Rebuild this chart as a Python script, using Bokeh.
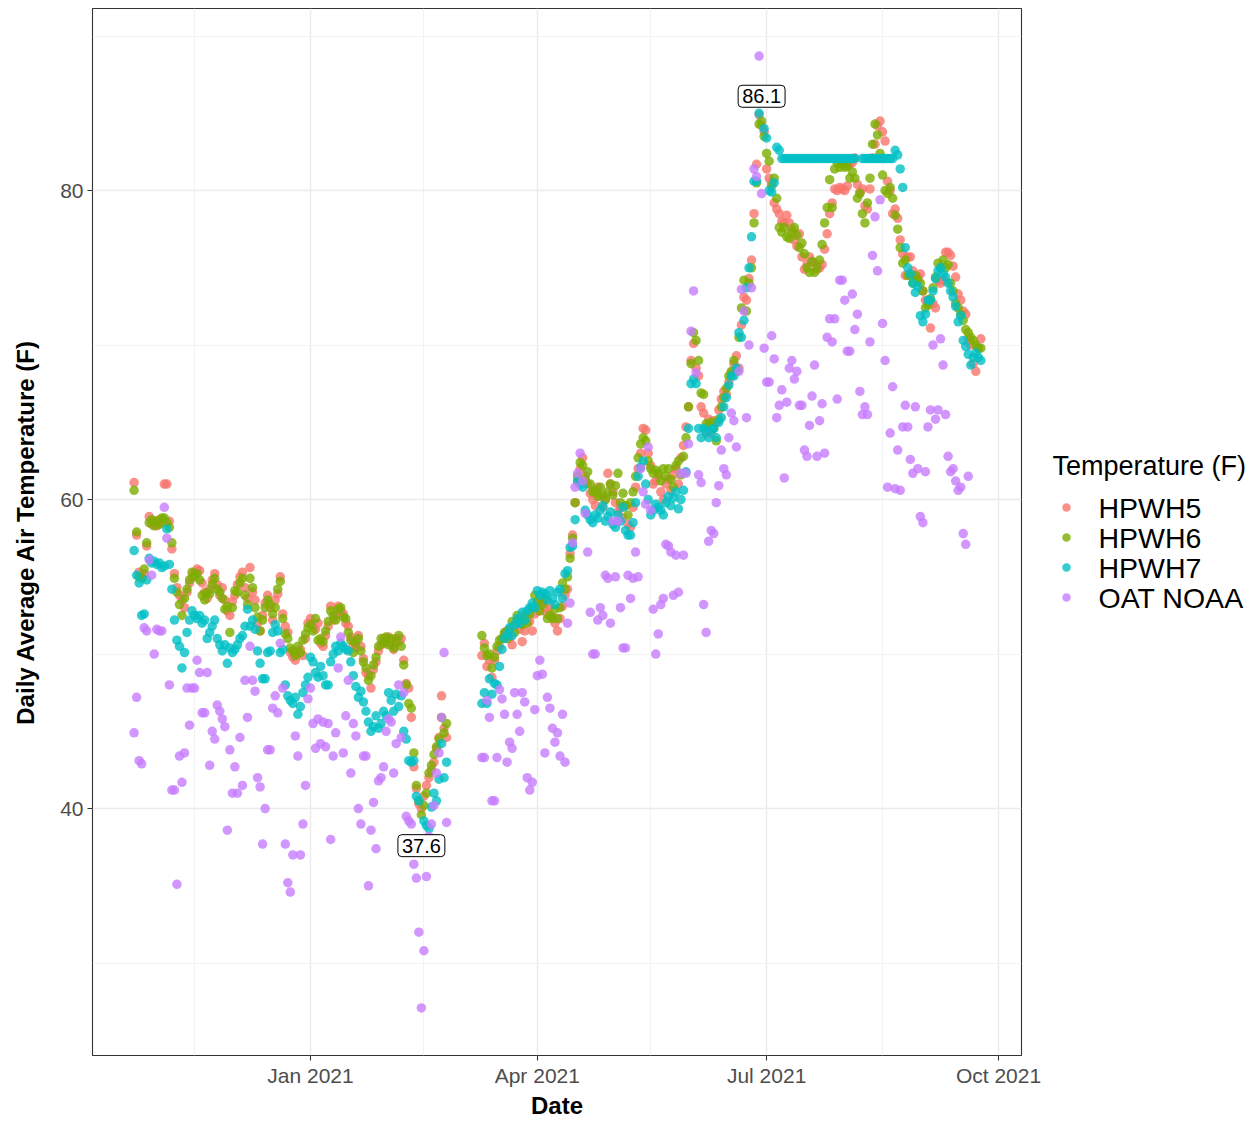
import pandas as pd
from bokeh.plotting import figure
from bokeh.layouts import row
from bokeh.models import (Range1d, FixedTicker, DatetimeTickFormatter,
                          ColumnDataSource)
from bokeh.core.properties import value
from bokeh.embed import file_html
from bokeh.resources import INLINE

nan = float("nan")

series_names = ["HPWH5", "HPWH6", "HPWH7", "OAT NOAA"]
series_colors = ["#F8766D", "#7CAE00", "#00BFC4", "#C77CFF"]
legend_title = "Temperature (F)"

winter_start = "2020-10-23"
spring_start = "2021-03-10"

x_major_ticks = ["2021-01-01", "2021-04-01", "2021-07-01", "2021-10-01"]
x_minor_ticks = ["2020-11-16", "2021-02-15", "2021-05-16", "2021-08-16"]
y_major_ticks = [40, 60, 80]
y_minor_ticks = [30, 50, 70, 90]

hpwh5_winter = [
    61.1, 57.7, 55.3, 55.0, 55.2, 57.0, 58.9, 58.4, 58.6, 58.3,
    58.7, 58.5, 61.0, 61.0, 58.6, 56.8, 55.2, 54.3, 53.8, 53.5,
    53.0, 54.0, 54.6, 55.0, 55.3, 55.5, 55.4, 54.6, 54.0, 53.6,
    54.2, 54.8, 55.2, 54.5, 53.8, 54.3, 53.5, 52.8, 52.5, 53.4,
    53.8, 54.5, 55.0, 55.3, 54.3, 53.6, 55.6, 54.0, 53.5, 52.0,
    51.5, 52.5, 53.3, 53.8, 53.0, 52.2, 53.5, 53.9, 55.0, 52.6,
    51.8, 51.4, 50.1, 49.8, 49.6, 50.0, 50.3, 49.9, 51.0, 52.0,
    52.3, 51.8, 51.6, 52.0, 50.7, 50.5, 51.2, 51.8, 53.1, 52.2,
    52.5, 53.1, 52.8, 52.6, 52.0, 51.8, 51.1, 50.6, 50.4, 51.2,
    50.5, 49.7, 48.8, 48.6, 47.8, 49.0, 49.5, 50.2, 50.6, 51.0,
    50.8, 51.1, 50.6, 50.3, 51.0, 50.8, 51.0, 49.6, 48.1, 47.8,
    45.9, 42.7, 41.3, 40.3, 40.0, 40.8, 41.5, 42.0, 42.5, 43.0,
    43.9, 44.6, 47.3, 45.2, 44.6]

hpwh6_winter = [
    60.6, 57.9, 55.0, 54.9, 55.5, 57.2, 58.5, 58.7, 58.3, 58.6,
    58.4, 58.8, 58.8, 58.5, 58.2, 57.2, 54.9, 54.0, 53.2, 52.5,
    53.6, 54.2, 54.8, 55.3, 55.0, 55.2, 54.8, 53.8, 53.5, 54.0,
    53.9, 54.5, 54.9, 54.2, 54.0, 53.6, 52.9, 53.1, 51.4, 53.0,
    54.1, 54.0, 54.6, 54.9, 53.8, 53.2, 54.9, 54.3, 53.0, 52.4,
    51.5, 52.2, 53.0, 53.5, 53.2, 52.6, 53.0, 54.2, 54.7, 52.3,
    51.3, 51.0, 50.4, 50.2, 49.9, 50.5, 50.1, 50.9, 51.3, 51.7,
    51.9, 51.5, 52.3, 50.9, 51.0, 50.8, 51.5, 52.1, 52.8, 52.5,
    52.2, 52.9, 53.0, 52.4, 52.3, 51.4, 50.9, 50.1, 50.7, 51.0,
    50.2, 49.5, 49.1, 48.3, 48.6, 49.3, 49.8, 50.5, 51.0, 50.7,
    51.1, 50.6, 51.0, 50.4, 50.8, 51.2, 50.5, 49.3, 48.0, 46.8,
    46.5, 43.6, 41.5, 40.5, 39.6, 40.2, 41.0, 42.3, 42.8, 43.5,
    44.0, 44.5, 45.9, 44.9, 45.5]

hpwh7_winter = [
    56.7, 55.1, 54.6, 52.5, 52.6, 54.8, 56.2, 55.9, 56.0, 55.8,
    55.9, 55.6, 55.7, 58.1, 55.8, 54.2, 52.2, 50.9, 50.5, 49.1,
    50.1, 51.4, 52.2, 52.8, 52.5, 52.3, 52.5, 52.0, 52.2, 51.0,
    51.4, 51.8, 52.2, 51.0, 50.6, 50.2, 50.6, 49.4, 50.4, 50.1,
    50.3, 50.6, 51.0, 51.2, 51.8, 52.9, 51.8, 52.2, 51.6, 50.2,
    49.4, 48.4, 48.4, 50.1, 50.2, 51.4, 51.9, 51.5, 50.1, 50.3,
    48.0, 47.3, 47.0, 46.8, 47.2, 46.1, 46.6, 47.5, 48.0, 48.5,
    49.8, 49.5, 48.8, 48.5, 49.2, 48.6, 48.0, 48.0, 49.5, 50.0,
    50.5, 50.2, 50.7, 50.5, 50.3, 50.2, 49.5, 48.6, 47.9, 47.2,
    47.6, 46.9, 46.3, 45.6, 45.0, 45.3, 46.0, 45.2, 45.5, 46.3,
    46.0, 47.5, 47.0, 46.3, 47.4, 46.6, 47.3, 45.0, 44.5, 43.1,
    43.0, 43.1, 40.8, 40.5, 37.6, 39.2, 38.9, 38.7, 40.1, 41.0,
    40.5, 41.9, 44.2, 42.0, 43.0]

oat_winter = [
    44.9, 47.2, 43.1, 42.9, 51.7, 51.5, 56.1, 55.1, 50.0, 51.6,
    51.5, 51.5, 59.5, 57.5, 48.0, 41.2, 41.2, 35.1, 43.4, 41.7,
    43.6, 47.8, 45.4, 47.8, 47.8, 49.6, 48.8, 46.2, 46.2, 48.8,
    42.8, 45.0, 44.5, 46.7, 46.3, 45.8, 45.3, 38.6, 43.8, 41.0,
    42.7, 41.0, 44.6, 41.5, 48.3, 45.9, 50.5, 48.3, 47.6, 42.0,
    41.4, 37.7, 40.0, 43.8, 43.8, 46.5, 47.3, 46.2, 50.7, 47.8,
    37.7, 35.2, 34.6, 37.0, 44.7, 43.4, 37.0, 39.0, 41.5, 47.1,
    47.8, 45.5, 43.9, 45.8, 44.2, 45.6, 44.0, 45.5, 38.0, 43.4,
    44.9, 49.1, 51.1, 43.6, 46.0, 48.3, 42.3, 45.5, 44.7, 40.0,
    39.0, 43.4, 43.4, 35.0, 38.6, 40.4, 37.4, 41.8, 42.0, 42.7,
    45.0, 45.8, 45.6, 42.3, 44.2, 48.0, 44.6, 47.5, 39.5, 39.2,
    39.0, 36.4, 35.5, 32.0, 27.1, 30.8, 35.6, 38.2, 39.0, 40.2,
    42.3, 43.6, 45.9, 50.1, 39.1]

hpwh5_spring = [
    49.9, 50.7, 49.2, 49.6, 48.5, 49.6, 50.2, 50.5, 51.0, 51.3,
    51.5, 51.0, 50.6, 51.8, 52.0, 51.6, 50.8, 51.5, 52.3, 52.1,
    51.5, 52.6, 53.3, 52.8, 53.4, 53.0, 52.6, 53.1, 52.4, 52.0,
    51.5, 52.3, 53.1, 53.8, 54.2, 56.5, 57.7, 59.8, 61.2, 62.0,
    62.7, 61.5, 61.0, 60.4, 60.0, 59.6, 60.8, 60.2, 59.5, 60.0,
    61.7, 61.0, 60.5, 59.8, 59.2, 59.5, 58.8, 59.6, 58.4, 58.2,
    59.5, 60.8, 62.0, 63.0, 64.6, 64.5, 63.0, 62.2, 61.0, 61.2,
    61.5, 60.5, 60.0, 61.0, 61.3, 60.6, 61.6, 62.0, 61.0, 62.7,
    63.5, 64.7, 66.0, 69.0, 70.1, 68.5, 68.0, 66.0, 65.6, 64.3,
    65.2, 64.3, 65.1, 65.0, 65.8, 66.5, 67.0, 66.8, 67.6, 68.2,
    68.8, 69.3, 68.5, 71.3, 73.1, 72.9, 74.3, 75.5, 78.5, 81.7,
    84.9, 84.2, 83.8, 81.4, 80.8, 80.5, 79.2, 78.8, 78.5, 78.0,
    77.9, 78.4, 77.9, 77.5, 76.8, 76.4, 77.2, 75.7, 74.9, 75.2,
    75.7, 75.4, 75.3, 74.9, 75.0, 75.2, 76.2, 77.2, 78.5, 79.2,
    80.1, 80.0, 80.2, 80.1, 80.0, 80.3, 81.7, 81.8, 82.1, 80.4,
    79.9, 80.1, 79.0, 78.8, 80.1, 82.1, 83.0, 84.2, 84.5, 83.8,
    83.2, 80.6, 80.0, 78.5, 78.8, 78.2, 76.8, 75.9, 74.5, 75.7,
    75.7, 74.8, 74.5, 74.4, 74.6, 73.5, 72.9, 72.8, 71.1, 72.7,
    72.4, 74.2, 74.0, 74.2, 76.0, 76.0, 75.8, 75.1, 74.4, 73.3,
    72.9, 72.2, 72.0, 70.4, 70.0, 68.8, 68.3, 69.8, 70.4]

hpwh6_spring = [
    51.2, 50.4, 49.9, 50.0, 49.1, 49.8, 50.5, 50.9, 51.0, 51.4,
    51.0, 51.6, 52.1, 51.4, 52.5, 52.3, 51.9, 52.5, 52.0, 52.6,
    53.0, 53.8, 53.4, 52.8, 53.2, 53.6, 52.3, 52.5, 52.3, 52.9,
    52.3, 53.0, 54.6, 54.2, 55.0, 56.2, 57.5, 59.8, 61.5, 62.4,
    62.2, 61.3, 61.8, 61.0, 60.5, 60.6, 60.2, 60.8, 60.3, 60.0,
    60.5, 61.0, 60.3, 60.9, 61.7, 59.8, 60.4, 59.6, 59.0, 59.8,
    60.5, 61.5, 62.7, 63.6, 64.0, 63.8, 62.5, 62.0, 61.7, 61.9,
    61.7, 61.2, 62.0, 61.5, 62.0, 61.3, 60.8, 62.2, 62.5, 61.6,
    62.8, 64.0, 66.0, 68.8, 70.8, 70.3, 69.0, 66.9, 66.8, 64.9,
    64.8, 65.0, 64.6, 63.8, 65.2, 66.0, 66.6, 67.2, 68.0, 68.3,
    69.0, 68.3, 70.5, 72.4, 74.2, 72.2, 74.0, 75.0, 77.9, 80.5,
    84.3, 84.5, 83.5, 82.4, 81.9, 80.3, 80.8, 79.5, 77.6, 77.3,
    77.6, 77.0, 76.9, 77.3, 77.6, 77.1, 76.3, 76.6, 75.9, 75.0,
    74.7, 75.4, 74.7, 75.0, 75.5, 76.5, 77.9, 78.9, 80.7, 78.9,
    81.4, 81.8, 81.5, 81.7, 81.5, 81.6, 80.8, 81.2, 80.8, 79.5,
    79.8, 78.5, 77.9, 79.2, 80.8, 83.0, 84.3, 83.6, 82.4, 81.0,
    80.0, 79.8, 80.2, 79.5, 78.4, 77.5, 76.3, 75.3, 75.5, 74.5,
    74.5, 74.0, 74.5, 74.2, 74.0, 73.5, 72.4, 72.6, 73.0, 73.7,
    74.4, 75.3, 75.0, 75.5, 75.0, 75.2, 74.0, 73.5, 72.7, 72.4,
    72.0, 71.6, 71.0, 70.8, 70.5, 70.3, 70.0, 69.8, 69.8]

hpwh7_spring = [
    46.8, 47.5, 46.8, 48.4, 47.4, 48.1, 48.0, 49.2, 50.3, 51.0,
    51.3, 51.7, 51.2, 51.9, 52.3, 52.0, 52.7, 52.2, 52.8, 53.0,
    53.3, 53.0, 54.1, 53.8, 54.0, 53.9, 53.5, 54.1, 53.6, 53.2,
    54.0, 54.2, 53.6, 55.2, 55.4, 56.9, 57.0, 58.7, 61.2, 61.0,
    60.8, 59.3, 59.0, 58.7, 58.5, 59.0, 58.8, 59.3, 59.6, 58.6,
    58.9, 59.2, 58.4, 58.2, 59.0, 58.6, 59.5, 58.0, 57.7, 57.7,
    58.5, 59.8, 61.5, 62.1, 62.5, 61.0, 60.0, 59.0, 59.3, 59.7,
    59.5, 59.3, 59.0, 59.8, 60.2, 59.6, 60.1, 60.5, 59.4, 60.0,
    60.6, 61.8, 64.6, 67.5, 67.8, 67.5, 64.6, 64.0, 64.6, 64.4,
    64.0, 64.5, 64.6, 64.0, 65.0, 65.3, 66.0, 66.6, 67.4, 68.0,
    68.0, 68.5, 70.8, 70.5, 71.6, 73.7, 75.0, 77.0, 80.6, 80.6,
    85.0, 86.1, 84.0, 83.4, 80.0, 79.9, 80.5, 82.8, 82.6, 82.07,
    82.07, 82.07, 82.07, 82.07, 82.07, 82.07, 82.07, 82.07, 82.07, 82.07,
    82.07, 82.07, 82.07, 82.07, 82.07, 82.07, 82.07, 82.07, 82.07, 82.07,
    82.07, 82.07, 82.07, 82.07, 82.07, 82.07, 82.07, 82.07, 82.07, nan,
    nan, 82.07, 82.07, 82.07, 82.07, 82.07, 82.07, 82.07, 82.07, 82.07,
    82.07, 82.07, 82.07, 82.07, 82.6, 82.3, 81.4, 80.2, 76.3, 75.0,
    74.6, 74.0, 73.4, 73.8, 71.9, 71.5, 72.0, 72.9, 72.9, 73.5,
    74.3, 74.8, 75.0, 74.6, 74.4, 74.0, 73.5, 73.1, 72.5, 71.5,
    71.9, 70.3, 69.9, 69.4, 68.7, 69.2, 69.5, 69.2, 69.0]

oat_spring = [
    43.3, 43.3, 47.0, 45.9, 40.5, 40.5, 43.3, 47.7, 47.1, 46.1,
    43.0, 44.3, 43.9, 47.5, 46.1, 45.0, 47.5, 46.9, 42.0, 41.2,
    41.7, 46.4, 48.6, 49.6, 48.7, 43.6, 47.2, 46.5, 45.2, 44.3,
    44.9, 43.4, 46.1, 43.0, 52.0, 53.3, 57.2, 60.8, 61.7, 63.0,
    61.2, 59.1, 56.6, 52.7, 50.0, 50.0, 52.2, 53.0, 52.5, 55.1,
    54.9, 52.0, 58.6, 55.0, 58.6, 53.0, 50.4, 50.4, 55.1, 53.6,
    54.9, 56.6, 55.0, 62.0, 60.5, 59.7, 63.4, 59.3, 52.9, 50.0,
    51.3, 53.2, 53.6, 57.1, 57.0, 56.6, 53.8, 56.4, 54.0, 61.7,
    56.4, 61.7, 63.6, 70.9, 73.5, 68.2, 61.6, 61.1, 53.2, 51.4,
    57.3, 58.0, 57.8, 59.8, 60.9, 63.2, 62.0, 61.6, 64.0, 65.6,
    65.1, 63.4, 68.3, 73.6, 72.2, 65.3, 70.0, 73.7, 81.4, 80.9,
    88.7, 79.8, 69.8, 67.6, 67.6, 70.6, 69.1, 65.3, 66.1, 67.1,
    61.4, 66.3, 68.5, 69.0, 67.8, 68.3, 66.1, 66.1, 63.2, 62.8,
    64.8, 66.7, 68.7, 62.8, 65.1, 66.2, 63.0, 70.5, 71.7, 70.2,
    71.7, 66.5, 74.2, 74.2, 72.9, 69.6, 69.6, 73.3, 71.0, 72.0,
    67.0, 65.5, 66.0, 65.5, 70.2, 75.8, 78.3, 74.8, 79.4, 71.4,
    69.0, 60.8, 64.3, 67.3, 60.7, 63.2, 60.6, 64.7, 66.1, 64.7,
    62.6, 61.7, 66.0, 62.0, 58.9, 58.5, 61.8, 64.7, 65.8, 70.0,
    65.2, 65.8, 70.4, 68.7, 65.5, 62.8, 61.8, 62.0, 61.2, 60.6,
    60.8, 57.8, 57.1, 61.5]

series_winter = [hpwh5_winter, hpwh6_winter, hpwh7_winter, oat_winter]
series_spring = [hpwh5_spring, hpwh6_spring, hpwh7_spring, oat_spring]


def build(winter, spring):
    d1 = pd.date_range(winter_start, periods=len(winter), freq="D")
    d2 = pd.date_range(spring_start, periods=len(spring), freq="D")
    return pd.DataFrame({"date": list(d1) + list(d2), "temp": winter + spring})


frames = [build(w, s) for w, s in zip(series_winter, series_spring)]

FONT = "Liberation Sans"
H = 1121
MAIN_W = 1048
FRAME_TOP, FRAME_BOTTOM = 8, 1055

# ---------------- main panel ----------------
p = figure(width=MAIN_W, height=H, x_axis_type="datetime",
           output_backend="svg", toolbar_location=None,
           min_border_left=92, min_border_right=MAIN_W - 1021,
           min_border_top=FRAME_TOP, min_border_bottom=H - FRAME_BOTTOM,
           background_fill_color="white", border_fill_color="white")

p.x_range = Range1d(start=pd.Timestamp("2020-10-06 12:00"),
                    end=pd.Timestamp("2021-10-10 03:00"))
p.y_range = Range1d(start=24.02, end=91.78)

to_ms = lambda s: pd.Timestamp(s).value / 1e6
p.xaxis.ticker = FixedTicker(ticks=[to_ms(t) for t in x_major_ticks],
                             minor_ticks=[to_ms(t) for t in x_minor_ticks])
fmt = "%b %Y"
p.xaxis.formatter = DatetimeTickFormatter(
    microseconds=fmt, milliseconds=fmt, seconds=fmt, minsec=fmt, minutes=fmt,
    hourmin=fmt, hours=fmt, days=fmt, months=fmt, years=fmt)
p.yaxis.ticker = FixedTicker(ticks=y_major_ticks, minor_ticks=y_minor_ticks)

for g in (p.xgrid, p.ygrid):
    g.grid_line_color = "#EBEBEB"
    g.grid_line_width = 1.4
    g.minor_grid_line_color = "#F2F2F2"
    g.minor_grid_line_width = 0.9

p.outline_line_color = "#333333"
p.outline_line_width = 1.1

for ax in (p.xaxis, p.yaxis):
    ax.axis_line_color = None
    ax.major_tick_line_color = "#333333"
    ax.major_tick_line_width = 1.1
    ax.major_tick_out = 5
    ax.major_tick_in = 0
    ax.minor_tick_line_color = None
    ax.major_label_text_font = FONT
    ax.major_label_text_font_size = "21px"
    ax.major_label_text_color = "#4D4D4D"
    ax.axis_label_text_font = FONT
    ax.axis_label_text_font_size = "24px"
    ax.axis_label_text_font_style = "bold"
    ax.axis_label_text_color = "black"

p.xaxis.axis_label = "Date"
p.yaxis.axis_label = "Daily Average Air Temperature (F)"
p.xaxis.major_label_standoff = 3
p.xaxis.axis_label_standoff = 2
p.yaxis.major_label_standoff = 4
p.yaxis.axis_label_standoff = 18

for df, color in zip(frames, series_colors):
    p.scatter("date", "temp", source=ColumnDataSource(df), size=9.5,
              fill_color=color, fill_alpha=0.8, line_color=None)

# extreme labels of the HPWH series
hp = pd.concat(frames[:3], ignore_index=True).dropna()
ext = pd.concat([hp.loc[[hp["temp"].idxmax()]], hp.loc[[hp["temp"].idxmin()]]])
ext["label"] = [f"{v:.1f}" for v in ext["temp"]]
p.text("date", "temp", text="label", source=ColumnDataSource(ext),
       text_font=value(FONT), text_font_size="20px", text_color="black",
       text_align="center", text_baseline="middle",
       background_fill_color="white", border_line_color="black",
       border_line_width=1, padding=4, border_radius=4)

# ---------------- legend panel (page pixel coordinates) ----------------
LW = 1252 - MAIN_W
lg = figure(width=LW, height=H, output_backend="svg", toolbar_location=None,
            x_range=Range1d(MAIN_W, 1252),
            y_range=Range1d(FRAME_BOTTOM, FRAME_TOP),
            x_axis_location=None, y_axis_location=None,
            min_border_left=0, min_border_right=0, min_border_top=FRAME_TOP,
            min_border_bottom=H - FRAME_BOTTOM, outline_line_color=None,
            background_fill_color="white", border_fill_color="white")
lg.grid.visible = False

title_x, title_y = 1052, 465
row_y0, row_dy = 507, 30
key_x, text_x = 1066, 1098

lg.text(x=[title_x], y=[title_y], text=[legend_title],
        text_font=value(FONT), text_font_size="27px", text_color="black",
        text_align="left", text_baseline="middle")
ys = [row_y0 + i * row_dy for i in range(len(series_names))]
lg.scatter(x=[key_x] * len(series_names), y=ys, size=8.5,
           fill_color=series_colors, fill_alpha=0.8, line_color=None)
lg.text(x=[text_x] * len(series_names), y=ys, text=series_names,
        text_font=value(FONT), text_font_size="28.5px", text_color="black",
        text_align="left", text_baseline="middle")

layout = row(p, lg, spacing=0)
open("out.html", "w").write(file_html(layout, INLINE))
